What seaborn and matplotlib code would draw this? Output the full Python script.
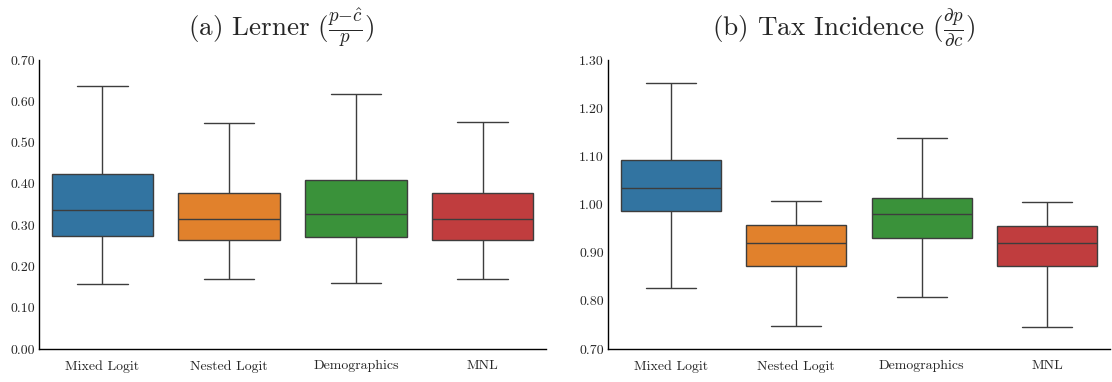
import numpy as np
import pandas as pd
import matplotlib
matplotlib.use("Agg")
import matplotlib.pyplot as plt
from matplotlib.ticker import FormatStrFormatter
import seaborn as sns

models = ["Mixed Logit", "Nested Logit", "Demographics", "MNL"]

# five-number summaries: [min, Q1, median, Q3, max]
lerner_mixed = [0.158, 0.274, 0.337, 0.424, 0.637]
lerner_nested = [0.170, 0.264, 0.315, 0.378, 0.547]
lerner_demo = [0.160, 0.271, 0.327, 0.409, 0.618]
lerner_mnl = [0.170, 0.264, 0.315, 0.378, 0.550]

tax_mixed = [0.827, 0.987, 1.034, 1.092, 1.252]
tax_nested = [0.748, 0.872, 0.920, 0.957, 1.007]
tax_demo = [0.808, 0.930, 0.980, 1.013, 1.138]
tax_mnl = [0.745, 0.872, 0.920, 0.955, 1.005]

lerner_ticks = [0.0, 0.1, 0.2, 0.3, 0.4, 0.5, 0.6, 0.7]
tax_ticks = [0.7, 0.8, 0.9, 1.0, 1.1, 1.2, 1.3]

titles = [r"(a) Lerner ($\frac{p{-}\hat{c}}{p}$)",
          r"(b) Tax Incidence ($\frac{\partial p}{\partial c}$)"]


def to_long(series):
    rows = []
    for m, vals in zip(models, series):
        for v in vals:
            rows.append({"model": m, "value": v})
    return pd.DataFrame(rows)


df_l = to_long([lerner_mixed, lerner_nested, lerner_demo, lerner_mnl])
df_t = to_long([tax_mixed, tax_nested, tax_demo, tax_mnl])

sns.set_style("white")
plt.rcParams["font.family"] = ["cmr10", "DejaVu Serif"]
plt.rcParams["mathtext.fontset"] = "cm"
plt.rcParams["axes.formatter.use_mathtext"] = True

fig = plt.figure(figsize=(11.12, 3.82), dpi=100)
ax1 = fig.add_axes([39 / 1112, 33 / 382, 507 / 1112, 289 / 382])
ax2 = fig.add_axes([608 / 1112, 33 / 382, 502 / 1112, 289 / 382])

for ax, df, ticks, title, tx in [(ax1, df_l, lerner_ticks, titles[0], 0.478),
                                 (ax2, df_t, tax_ticks, titles[1], 0.469)]:
    sns.boxplot(data=df, x="model", y="value", hue="model", order=models,
                hue_order=models, palette="tab10", legend=False,
                whis=(0, 100), width=0.8, linewidth=1.0, ax=ax)
    ax.set_ylim(ticks[0], ticks[-1])
    ax.set_yticks(ticks)
    ax.yaxis.set_major_formatter(FormatStrFormatter("%.2f"))
    ax.set_xlabel("")
    ax.set_ylabel("")
    ax.tick_params(axis="x", labelsize=10, pad=8, length=0)
    ax.tick_params(axis="y", labelsize=10, pad=3, length=0)
    ax.set_title(title, fontsize=19.5, pad=17, x=tx)
    for s in ["top", "right"]:
        ax.spines[s].set_visible(False)
    for s in ["left", "bottom"]:
        ax.spines[s].set_color("black")
        ax.spines[s].set_linewidth(1.0)

fig.savefig("out.png", dpi=100)
